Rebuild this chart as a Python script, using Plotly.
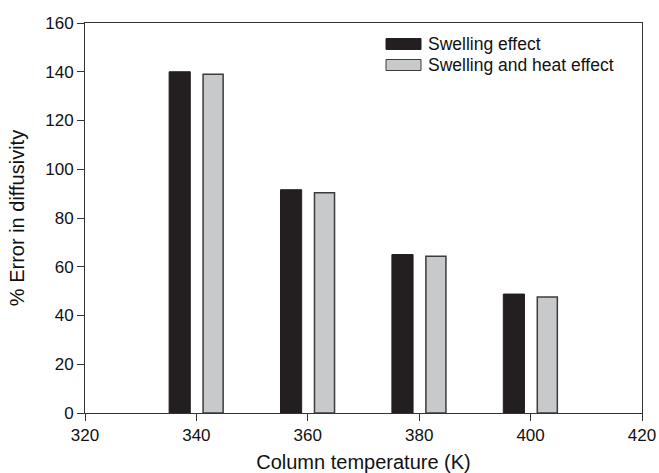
import plotly.graph_objects as go

# Column temperatures (K) and % error in diffusivity for each correction
temperatures = [340, 360, 380, 400]
swelling = [140.0, 91.6, 65.0, 48.8]
swelling_heat = [139.0, 90.4, 64.3, 47.6]
series_names = ["Swelling effect", "Swelling and heat effect"]

DARK = "#231f20"
LIGHT = "#c8c9cb"
EDGE = "#3c3c3c"
FONT = "Liberation Sans, Arial, sans-serif"

W, H = 659, 473
L, R, T, B = 85, 17, 23, 60
pw, ph = W - L - R, H - T - B


def px_x(p):
    return (p - L) / pw


def px_y(p):
    return (H - B - p) / ph


fig = go.Figure()
fig.add_trace(go.Bar(
    x=temperatures, y=swelling, name=series_names[0],
    offset=-4.9, width=3.8,
    marker=dict(color=DARK, line=dict(color=DARK, width=1)),
    showlegend=False,
))
fig.add_trace(go.Bar(
    x=temperatures, y=swelling_heat, name=series_names[1],
    offset=1.2, width=3.6,
    marker=dict(color=LIGHT, line=dict(color=EDGE, width=1.5)),
    showlegend=False,
))

# Legend drawn as swatches + labels in the upper right of the frame
legend_rows = [(DARK, DARK, 38.5, 49.5), (LIGHT, EDGE, 59.5, 70.5)]
for (fill, edge, top, bot), name in zip(legend_rows, series_names):
    fig.add_shape(type="rect", xref="paper", yref="paper",
                  x0=px_x(386), x1=px_x(421), y0=px_y(bot), y1=px_y(top),
                  fillcolor=fill, line=dict(color=edge, width=1))
    fig.add_annotation(xref="paper", yref="paper", x=px_x(426),
                       y=px_y((top + bot) / 2), text=name, showarrow=False,
                       xanchor="left", yanchor="middle",
                       font=dict(family=FONT, size=17.5, color="#111"))

axis_common = dict(
    showgrid=False, zeroline=False, showline=True, mirror=True,
    linecolor="#333", linewidth=1, ticks="outside", ticklen=7,
    tickcolor="#333", tickfont=dict(family=FONT, size=17, color="#111"),
    automargin=False,
)

fig.update_xaxes(range=[320, 420], tickvals=[320, 340, 360, 380, 400, 420],
                 title=dict(text="Column temperature (K)", standoff=11,
                            font=dict(family=FONT, size=20, color="#111")),
                 **axis_common)
fig.update_yaxes(range=[0, 160], tickvals=list(range(0, 161, 20)),
                 title=dict(text="% Error in diffusivity", standoff=15,
                            font=dict(family=FONT, size=20, color="#111")),
                 **axis_common)

fig.update_layout(
    width=W, height=H, margin=dict(l=L, r=R, t=T, b=B),
    paper_bgcolor="white", plot_bgcolor="white",
    barmode="overlay",
)

fig.write_html("out.html")
